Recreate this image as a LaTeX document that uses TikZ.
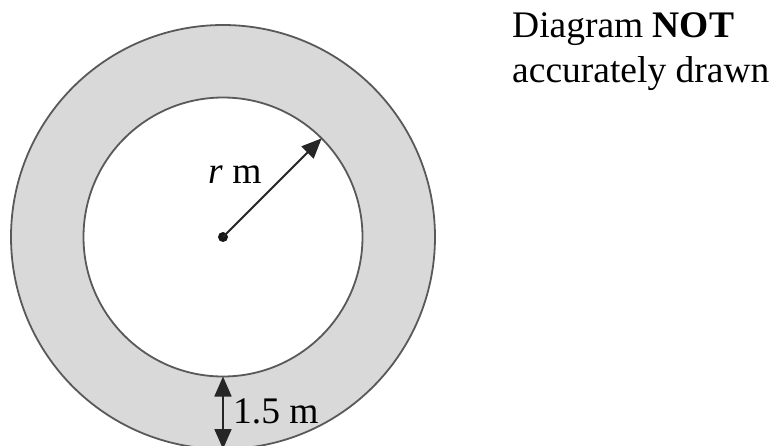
\documentclass[tikz,border=0pt]{standalone}
\usepackage{fontspec}
\setmainfont{Liberation Serif}
\usetikzlibrary{arrows.meta}
\usetikzlibrary{positioning}

\begin{document}
\begin{tikzpicture}[x=1pt,y=-1pt,
  ring/.style={circle,draw=black!65,line width=1.8pt,inner sep=0pt,outer sep=0pt},
  lbl/.style={font=\fontsize{37.5}{45}\selectfont,anchor=base west,inner sep=0pt},
  dim/.style={line width=1.8pt,black!85},
  tip/.style={Triangle[length=20pt,width=17pt]}]
\useasboundingbox (0,0) rectangle (777,445);
\clip (0,0) rectangle (777,445);

% the ring
\node[ring,fill=black!15,minimum size=424pt] (outer) at (223,237) {};
\node[ring,fill=white,minimum size=279pt] (inner) at (223,237) {};
\coordinate (O) at (223,237);
\fill[black!90] (O) circle (5pt);

% radius and width
\draw[dim,-{Triangle[length=20pt,width=17pt]}] (O) -- (inner.45);
\draw[dim,{Triangle[length=20pt,width=17pt]}-{Triangle[length=20pt,width=17pt]}] (inner.south) -- (outer.south);
\node[lbl] (rlab) at (208,183) {\textit{r} m};
\node[lbl] (wlab) at (233,423) {1.5 m};

% note
\node[lbl] (note1) at (512,37) {Diagram \textbf{NOT}};
\node[lbl] (note2) at (512,82) {accurately drawn};
\end{tikzpicture}
\end{document}
